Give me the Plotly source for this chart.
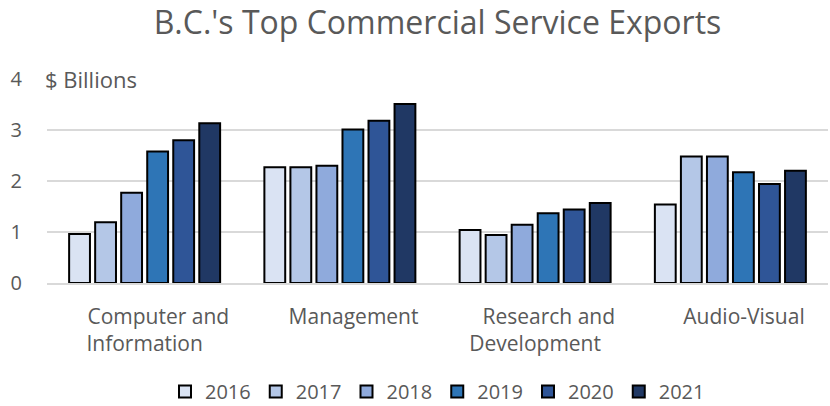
import plotly.graph_objects as go

PAD = "&nbsp;" * 5
categories = [PAD + "Computer and<br>Information", PAD + "Management",
              PAD + "Research and<br>Development", PAD + "Audio-Visual"]
years = ["2016", "2017", "2018", "2019", "2020", "2021"]
values = {
    "2016": [0.96, 2.27, 1.04, 1.54],
    "2017": [1.19, 2.27, 0.94, 2.48],
    "2018": [1.77, 2.30, 1.14, 2.48],
    "2019": [2.58, 3.01, 1.37, 2.17],
    "2020": [2.80, 3.18, 1.44, 1.94],
    "2021": [3.13, 3.51, 1.57, 2.20],
}
colors = ["#DAE3F3", "#B4C7E7", "#8FAADC", "#2E75B6", "#2F5597", "#203864"]
y_ticks = [0, 1, 2, 3, 4]

FONT = "Open Sans"
GREY = "#595959"
H = 406
TOP, BOTTOM = 79, 123
PLOT_H = H - TOP - BOTTOM

fig = go.Figure()
for yr, col in zip(years, colors):
    fig.add_trace(go.Bar(
        x=categories, y=values[yr], name=yr,
        marker=dict(color=col, line=dict(color="black", width=2)),
    ))

fig.update_layout(
    width=830, height=H,
    margin=dict(l=47, r=2, t=TOP, b=BOTTOM, autoexpand=False),
    paper_bgcolor="white", plot_bgcolor="white",
    barmode="group", bargap=0.2, bargroupgap=0.2,
    font=dict(family=FONT, color=GREY, size=20),
    title=dict(text="B.C.'s Top Commercial Service Exports", x=0.5, xref="paper",
               y=1 - 23 / H, yref="container", yanchor="middle",
               font=dict(family=FONT, size=32, color=GREY)),
    showlegend=True,
    legend=dict(orientation="h", x=0.5, xanchor="center", xref="paper",
                y=-(BOTTOM + 5) / PLOT_H, yref="paper", yanchor="bottom",
                font=dict(size=20, color=GREY), itemwidth=30,
                traceorder="normal"),
)
fig.update_yaxes(range=[0, 4], tickvals=y_ticks, showgrid=True, gridcolor="#D9D9D9",
                 gridwidth=1.5, zeroline=False, showline=False, ticks="",
                 tickfont=dict(size=20, color=GREY), ticklabelstandoff=24)
fig.update_xaxes(showline=True, linecolor="#D9D9D9", linewidth=1.5, ticks="",
                 tickfont=dict(size=21, color=GREY), ticklabelstandoff=14)
fig.add_annotation(text="$ Billions", xref="paper", yref="y", x=0, y=4,
                   xanchor="left", yanchor="middle", showarrow=False, xshift=-4,
                   bgcolor="white", font=dict(size=22, color=GREY))

fig.write_html("out.html")
